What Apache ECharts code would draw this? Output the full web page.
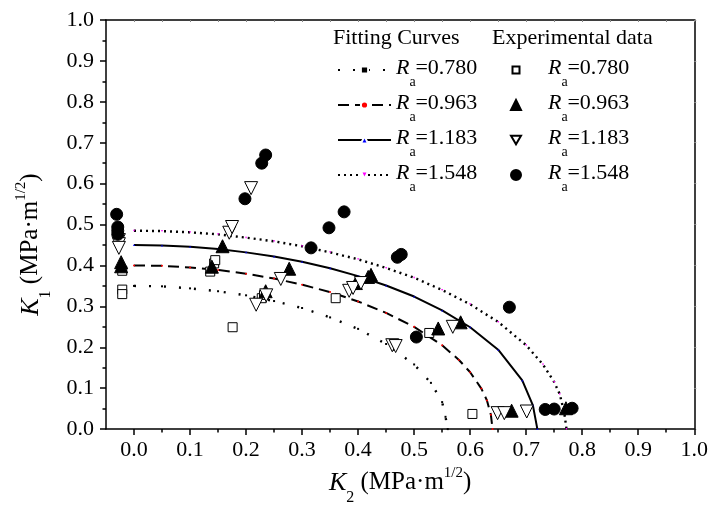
<!DOCTYPE html>
<html><head><meta charset="utf-8">
<script src="https://cdn.jsdelivr.net/npm/echarts@6/dist/echarts.min.js"></script>
<style>html,body{margin:0;padding:0;background:#fff}#c{width:711px;height:511px}</style>
</head><body><div id="c"></div>
<script>
const raLabels = ['0.780', '0.963', '1.183', '1.548'];
const xMajorTicks = [0.0, 0.1, 0.2, 0.3, 0.4, 0.5, 0.6, 0.7, 0.8, 0.9, 1.0];
const xMinorTicks = [0.05, 0.15, 0.25, 0.35, 0.45, 0.55, 0.65, 0.75, 0.85, 0.95];
const xAllTicks = [0.0, 0.05, 0.1, 0.15, 0.2, 0.25, 0.3, 0.35, 0.4, 0.45, 0.5, 0.55, 0.6, 0.65, 0.7, 0.75, 0.8, 0.85, 0.9, 0.95, 1.0];

// Fitting curves [K2, K1]
const fit0780 = [[0,0.350],[0.05,0.349],[0.1,0.344],[0.15,0.337],[0.2,0.327],[0.25,0.313],[0.3,0.296],[0.35,0.273],[0.4,0.245],[0.45,0.208],[0.5,0.158],[0.53,0.113],[0.55,0.066],[0.556,0.03],[0.56,0]];
const fit0963 = [[0,0.400],[0.05,0.399],[0.1,0.395],[0.15,0.389],[0.2,0.380],[0.25,0.368],[0.3,0.353],[0.35,0.335],[0.4,0.312],[0.45,0.284],[0.5,0.250],[0.55,0.205],[0.58,0.169],[0.6,0.139],[0.62,0.099],[0.63,0.070],[0.637,0.035],[0.64,0]];
const fit1183 = [[0,0.450],[0.05,0.449],[0.1,0.446],[0.15,0.440],[0.2,0.432],[0.25,0.422],[0.3,0.409],[0.35,0.393],[0.4,0.374],[0.45,0.351],[0.5,0.324],[0.55,0.290],[0.6,0.249],[0.65,0.194],[0.693,0.119],[0.712,0.058],[0.72,0]];
const fit1548 = [[0,0.485],[0.05,0.484],[0.1,0.481],[0.15,0.476],[0.2,0.468],[0.25,0.459],[0.3,0.447],[0.35,0.432],[0.4,0.415],[0.45,0.394],[0.5,0.370],[0.55,0.340],[0.6,0.305],[0.65,0.262],[0.7,0.205],[0.73,0.158],[0.75,0.115],[0.76,0.085],[0.768,0.04],[0.772,0]];

// Experimental data [K2, K1]
const exp0780 = [[-0.021,0.387],[-0.021,0.341],[-0.021,0.330],[0.136,0.385],[0.143,0.405],[0.145,0.413],[0.176,0.249],[0.228,0.320],[0.232,0.328],[0.360,0.320],[0.527,0.235],[0.604,0.037]];
const exp0963 = [[-0.023,0.408],[-0.023,0.398],[0.139,0.397],[0.158,0.447],[0.235,0.337],[0.277,0.392],[0.396,0.357],[0.418,0.372],[0.423,0.377],[0.543,0.246],[0.583,0.261],[0.674,0.045],[0.771,0.051]];
const exp1183 = [[-0.027,0.462],[-0.027,0.452],[-0.027,0.443],[0.170,0.480],[0.175,0.494],[0.209,0.589],[0.218,0.304],[0.236,0.327],[0.262,0.367],[0.384,0.338],[0.391,0.345],[0.405,0.357],[0.461,0.205],[0.467,0.203],[0.569,0.250],[0.649,0.039],[0.661,0.039],[0.701,0.043]];
const exp1548 = [[-0.031,0.525],[-0.029,0.494],[-0.029,0.485],[-0.029,0.476],[0.198,0.563],[0.228,0.650],[0.235,0.670],[0.316,0.443],[0.348,0.492],[0.375,0.531],[0.470,0.420],[0.477,0.427],[0.504,0.225],[0.670,0.298],[0.734,0.048],[0.750,0.049],[0.782,0.051]];

const FONT = 'Liberation Serif';
const chart = echarts.init(document.getElementById('c'), null, {renderer: 'canvas'});

function makeRich(lead) {
  return {
    sp: {width: lead, lineHeight: 26},
    i: {fontFamily: FONT, fontSize: 22, fontStyle: 'italic', color: '#000', lineHeight: 26, verticalAlign: 'top'},
    s: {fontFamily: FONT, fontSize: 14, color: '#000', lineHeight: 14, verticalAlign: 'top', padding: [18, 0, 0, 0], width: 6},
    n: {fontFamily: FONT, fontSize: 22, color: '#000', lineHeight: 26, verticalAlign: 'top'}
  };
}
const legendFmt = name => '{sp|}{i|R}{s|a}{n|=' + name.split('=')[1] + '}';

const fitNames = raLabels.map(r => 'Fit R=' + r);
const expNames = raLabels.map(r => 'Exp R=' + r);

const DOWN_TRI = 'path://M0,0L10,0L5,8.66Z';

const fitData = [fit0780, fit0963, fit1183, fit1548];
const fitLine = [
  {type: [2, 13], width: 2.4},
  {type: [11, 6], width: 2},
  {type: 'solid', width: 2},
  {type: [2, 4], width: 2.4}
];
const fitSym = ['rect', 'circle', 'triangle', DOWN_TRI];
const fitSymColor = ['#000', '#ff0000', '#0000ff', '#ff00ff'];

const expData = [exp0780, exp0963, exp1183, exp1548];
const expSym = ['rect', 'triangle', DOWN_TRI, 'circle'];
const expSize = [9, 13, 13, 12];
const expFill = ['#fff', '#000', '#fff', '#000'];
const expLegendSize = [7, 10, 10, 10];

const series = [];
fitData.forEach((d, k) => {
  series.push({
    name: fitNames[k], type: 'line', data: d, xAxisIndex: 0, yAxisIndex: 0,
    showSymbol: true, symbol: fitSym[k], symbolSize: 2,
    itemStyle: {color: fitSymColor[k]},
    lineStyle: Object.assign({color: '#000', cap: 'butt'}, fitLine[k]),
    z: 2, silent: true
  });
});
expData.forEach((d, k) => {
  series.push({
    name: expNames[k], type: 'scatter', data: d, xAxisIndex: 0, yAxisIndex: 0,
    symbol: expSym[k], symbolSize: expSize[k],
    itemStyle: {color: expFill[k], borderColor: '#000', borderWidth: 1, opacity: 1},
    z: 5, silent: true
  });
});

const axisLineStyle = {color: '#000', width: 1.5};
const nameRich = {
  i: {fontFamily: FONT, fontSize: 26, fontStyle: 'italic', color: '#000', lineHeight: 30, verticalAlign: 'top'},
  sub: {fontFamily: FONT, fontSize: 16, color: '#000', lineHeight: 16, verticalAlign: 'top', padding: [20, 0, 0, 0]},
  t: {fontFamily: FONT, fontSize: 25, color: '#000', lineHeight: 30, verticalAlign: 'top'},
  sup: {fontFamily: FONT, fontSize: 15, color: '#000', lineHeight: 15, verticalAlign: 'top', padding: [-4, 0, 0, 0]}
};

const legendsFit = fitNames.map((n, k) => ({
  data: [n], orient: 'vertical', left: 337, top: 57 + 35 * k, padding: 0,
  itemWidth: 53, itemHeight: 9, itemGap: 0,
  itemStyle: {borderColor: '#fff', borderWidth: 2},
  formatter: legendFmt, textStyle: {rich: makeRich(0)}, selectedMode: false
}));
const legendsExp = expNames.map((n, k) => ({
  data: [{name: n, icon: expSym[k]}], orient: 'vertical', left: 515 - expLegendSize[k] / 2, top: 57 + 35 * k, padding: 0,
  itemWidth: expLegendSize[k], itemHeight: expLegendSize[k], itemGap: 0,
  formatter: legendFmt, textStyle: {rich: makeRich(27 - expLegendSize[k] / 2)}, selectedMode: false
}));

chart.setOption({
  animation: false,
  backgroundColor: '#fff',
  grid: {left: 106, right: 16, top: 20, bottom: 79},
  title: [
    {text: 'Fitting Curves', left: 333, top: 27, textStyle: {fontFamily: FONT, fontSize: 22, fontWeight: 'normal', color: '#000'}, padding: 0},
    {text: 'Experimental data', left: 492, top: 27, textStyle: {fontFamily: FONT, fontSize: 22, fontWeight: 'normal', color: '#000'}, padding: 0}
  ],
  legend: legendsFit.concat(legendsExp),
  xAxis: [
    {
      type: 'value', min: -0.05, max: 1.0, position: 'bottom',
      axisLine: {onZero: false, lineStyle: axisLineStyle},
      axisTick: {show: true, inside: false, length: 6, customValues: xMajorTicks, lineStyle: {color: '#000', width: 1.5}},
      axisLabel: {customValues: xMajorTicks, formatter: v => v.toFixed(1), fontFamily: FONT, fontSize: 22, color: '#000', margin: 10},
      splitLine: {show: false},
      name: '{i|K}{sub|2}{t| (MPa·m}{sup|1/2}{t|)}',
      nameLocation: 'middle', nameGap: 40,
      nameTextStyle: {rich: nameRich}
    },
    {
      type: 'value', min: -0.05, max: 1.0, position: 'bottom',
      axisLine: {show: false},
      axisTick: {show: true, inside: false, length: 3.5, customValues: xMinorTicks, lineStyle: {color: '#000', width: 1.5}},
      axisLabel: {show: false}, splitLine: {show: false}
    },
    {
      type: 'value', min: -0.05, max: 1.0, position: 'top',
      axisLine: {onZero: false, lineStyle: axisLineStyle},
      axisTick: {show: true, inside: true, length: 2, customValues: xAllTicks, lineStyle: {color: '#888', width: 1}},
      axisLabel: {show: false}, splitLine: {show: false}
    }
  ],
  yAxis: [
    {
      type: 'value', min: 0, max: 1.0, interval: 0.1, position: 'left',
      axisLine: {onZero: false, lineStyle: axisLineStyle},
      axisTick: {show: true, inside: false, length: 6, lineStyle: {color: '#000', width: 1.5}},
      minorTick: {show: true, splitNumber: 2, length: 3.5, lineStyle: {color: '#000', width: 1.5}},
      axisLabel: {formatter: v => v.toFixed(1), fontFamily: FONT, fontSize: 22, color: '#000', margin: 12},
      splitLine: {show: false},
      name: '{i|K}{sub|1}{t| (MPa·m}{sup|1/2}{t|)}',
      nameLocation: 'middle', nameGap: 58,
      nameTextStyle: {padding: [0, 40, 0, 0], rich: nameRich}
    },
    {
      type: 'value', min: 0, max: 1.0, interval: 0.1, position: 'right',
      axisLine: {onZero: false, lineStyle: axisLineStyle},
      axisTick: {show: true, inside: false, length: 2, lineStyle: {color: '#888', width: 1}},
      axisLabel: {show: false}, splitLine: {show: false}
    }
  ],
  series: series
});
</script></body></html>
